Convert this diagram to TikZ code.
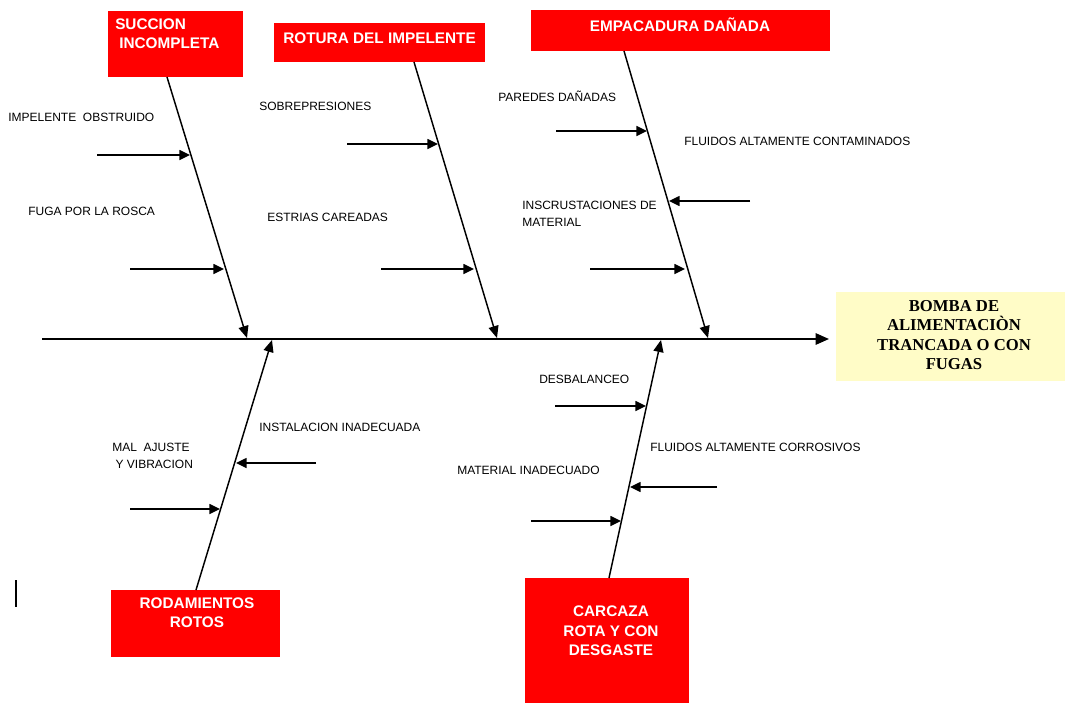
\documentclass[tikz,border=0pt]{standalone}
\usepackage{fontspec}
\setmainfont{Liberation Sans}
\newfontfamily\headserif{Liberation Serif}
\usetikzlibrary{arrows.meta}
\begin{document}
\begin{tikzpicture}[x=0.75pt,y=-0.75pt,
  redbox/.style={fill=red, draw=none, inner sep=0pt, outer sep=0pt},
  headbox/.style={fill=yellow!22, draw=none, inner sep=0pt, outer sep=0pt},
  lbl/.style={font=\fontsize{9}{12.75}\selectfont, anchor=west, inner sep=0pt, align=left},
  btxt/.style={font=\bfseries\fontsize{11.5}{14.5}\selectfont, text=white, inner sep=0pt},
  htxt/.style={font=\headserif\bfseries\fontsize{12.5}{14.6}\selectfont, inner sep=0pt, align=center},
  bone/.style={line width=1.1pt, -{Triangle[length=9pt,width=7.5pt]}},
  subarrow/.style={line width=1.1pt, -{Triangle[length=8pt,width=7.5pt]}},
  spine/.style={line width=1.3pt, -{Triangle[length=10pt,width=8.5pt]}}]
\useasboundingbox (0,0) rectangle (1065,703);
\fill[white] (0,0) rectangle (1065,703);

% boxes
\node[redbox, minimum width=101.25pt, minimum height=49.5pt] (box1) at (175.5,44) {};
\node[redbox, minimum width=158.25pt, minimum height=29.25pt] (box2) at (379.5,42.5) {};
\node[redbox, minimum width=224.25pt, minimum height=30.75pt] (box3) at (680.5,30.5) {};
\node[redbox, minimum width=126.75pt, minimum height=50.25pt] (box4) at (195.5,623.5) {};
\node[redbox, minimum width=123pt, minimum height=93.75pt] (box5) at (607,640.5) {};
\node[headbox, minimum width=171.75pt, minimum height=66.75pt] (head) at (950.5,336.5) {};

% box texts
\node[btxt, anchor=north west, align=left] (t1) at (115,18.5) {SUCCION\\\hspace{3pt}INCOMPLETA};
\node[btxt, anchor=west] (t2) at (283,38) {ROTURA DEL IMPELENTE};
\node[btxt, anchor=base] (t3) at (680,31.5) {EMPACADURA DAÑADA};
\node[btxt, align=center] (t4) at (197,613) {RODAMIENTOS\\ROTOS};
\node[btxt, align=center] (t5) at (611,631) {CARCAZA\\ROTA Y CON\\DESGASTE};
\node[htxt] (th) at (954,335) {BOMBA DE\\ALIMENTACIÒN\\TRANCADA O CON\\FUGAS};

% spine
\coordinate (sp0) at (42,339);
\coordinate (sp1) at (829,339);
\draw[spine] (sp0) -- (sp1);

% bone end points on the spine
\coordinate (j1) at (247,338);
\coordinate (j2) at (497,338);
\coordinate (j3) at (708,338);
\coordinate (j4) at (272,340);
\coordinate (j5) at (661,340);

% bone start points on the boxes
\coordinate (s1) at (167,77);
\coordinate (s2) at (414,62);
\coordinate (s3) at (624,51);
\coordinate (s4) at (196,590);
\coordinate (s5) at (609,578);

\draw[bone] (s1) -- (j1);
\draw[bone] (s2) -- (j2);
\draw[bone] (s3) -- (j3);
\draw[bone] (s4) -- (j4);
\draw[bone] (s5) -- (j5);

% sub arrows
\coordinate (a1s) at (97,155);  \coordinate (a1e) at (190,155);
\coordinate (a2s) at (130,269); \coordinate (a2e) at (224,269);
\coordinate (a3s) at (347,144); \coordinate (a3e) at (438,144);
\coordinate (a4s) at (381,269); \coordinate (a4e) at (474,269);
\coordinate (a5s) at (556,131); \coordinate (a5e) at (647,131);
\coordinate (a6s) at (750,201); \coordinate (a6e) at (669,201);
\coordinate (a7s) at (590,269); \coordinate (a7e) at (685,269);
\coordinate (a8s) at (316,463); \coordinate (a8e) at (236,463);
\coordinate (a9s) at (130,509); \coordinate (a9e) at (220,509);
\coordinate (a10s) at (555,406); \coordinate (a10e) at (646,406);
\coordinate (a11s) at (717,487); \coordinate (a11e) at (630,487);
\coordinate (a12s) at (531,521); \coordinate (a12e) at (621,521);
\foreach \i in {1,...,12} {\draw[subarrow] (a\i s) -- (a\i e);}

% labels
\node[lbl] (l1) at (8,117) {IMPELENTE \ OBSTRUIDO};
\node[lbl] (l2) at (28,211) {FUGA POR LA ROSCA};
\node[lbl] (l3) at (259,106) {SOBREPRESIONES};
\node[lbl] (l4) at (267,217) {ESTRIAS CAREADAS};
\node[lbl] (l5) at (498,96) {PAREDES DAÑADAS};
\node[lbl] (l6) at (684,141) {FLUIDOS ALTAMENTE CONTAMINADOS};
\node[lbl] (l7) at (522,213.5) {INSCRUSTACIONES DE\\MATERIAL};
\node[lbl] (l8) at (112,455.5) {MAL \ AJUSTE\\\ Y VIBRACION};
\node[lbl] (l9) at (259,427) {INSTALACION INADECUADA};
\node[lbl] (l10) at (539,379) {DESBALANCEO};
\node[lbl] (l11) at (650,447) {FLUIDOS ALTAMENTE CORROSIVOS};
\node[lbl] (l12) at (457,470) {MATERIAL INADECUADO};

% text cursor mark
\coordinate (c0) at (16,580);
\coordinate (c1) at (16,607);
\draw[line width=1.5pt] (c0) -- (c1);
\end{tikzpicture}
\end{document}
